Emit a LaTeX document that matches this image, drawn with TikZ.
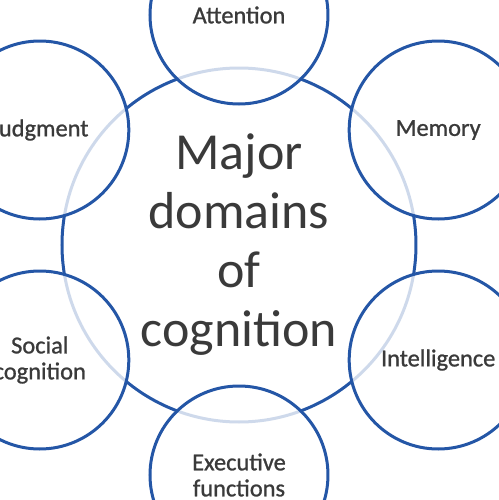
\documentclass[tikz,border=0pt]{standalone}
\usepackage{fontspec}
\setmainfont{Carlito}
\usepackage{tikz}
\definecolor{ringblue}{HTML}{2456A6}
\definecolor{labelgray}{HTML}{3A3A3A}

\begin{document}
\begin{tikzpicture}[
      x=0.5pt, y=0.5pt,
      core/.style={circle, draw=ringblue, line width=1.5pt, minimum size=177pt,
                   inner sep=0pt, align=center, text=labelgray,
                   font=\fontsize{26}{29.5}\selectfont},
      ring/.style={circle, draw=ringblue, line width=1.5pt, fill=white, fill opacity=0.78,
                   text opacity=1, minimum size=89pt, inner sep=0pt, align=center,
                   text=labelgray, font=\fontsize{12.2}{13}\selectfont\addfontfeatures{FakeBold=1}}
    ]
      \clip (-239,-255) rectangle (260,245);
      \node[core] (core) at (0,0) {Major\\domains\\of\\cognition};
      \node[ring] (attention) at (90:230) {Attention};
      \node[ring] (memory) at (30:230) {Memory};
      \node[ring] (intelligence) at (-30:230) {Intelligence};
      \node[ring] (executive) at (-90:230) {Executive\\functions};
      \node[ring] (social) at (210:230) {Social\\cognition};
      \node[ring] (judgment) at (150:230) {Judgment};
    \end{tikzpicture}
\end{document}
